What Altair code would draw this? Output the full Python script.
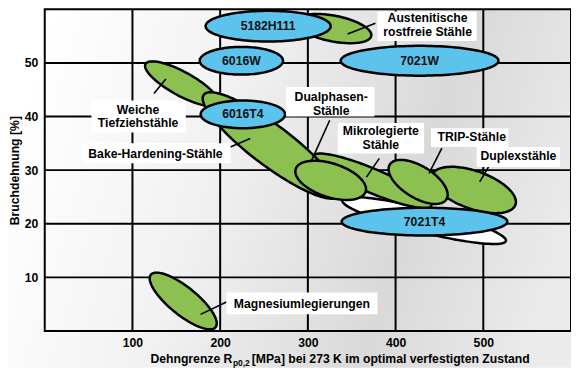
import numpy as np
import pandas as pd
import altair as alt

# ---------------- data ----------------
x_ticks = [100, 200, 300, 400, 500]          # Dehngrenze [MPa]
y_ticks = [10, 20, 30, 40, 50]               # Bruchdehnung [%]

# material regions (drawing order = list order)
names = ["weiss", "Mikrolegierte", "Duplex", "TRIP", "Magnesium", "Austenitisch",
         "Weiche", "BakeHardening", "Dualphasen",
         "5182H111", "6016W", "7021W", "6016T4", "7021T4"]
kinds = ["sonstige", "Stahl", "Stahl", "Stahl", "Magnesium", "Stahl",
         "Stahl", "Stahl", "Stahl",
         "Aluminium", "Aluminium", "Aluminium", "Aluminium", "Aluminium"]
centre_rp = [432.5, 373.6, 489.1, 425.7, 157.9, 329.3, 156.2, 258.0, 326.0,
             254.7, 224.2, 427.4, 225.9, 433.0]
centre_a = [20.6, 28.0, 26.3, 27.8, 5.6, 56.4, 46.1, 34.6, 28.1,
            56.85, 50.4, 50.4, 40.4, 20.4]
half_len = [96.2, 73.0, 50.5, 37.9, 47.5, 43.8, 47.1, 96.0, 41.9,
            71.3, 47.5, 90.0, 48.1, 94.5]
half_wid = [13.6, 13.6, 21.5, 18.1, 15.8, 14.7, 13.6, 23.0, 19.2,
            17.5, 15.8, 17.0, 15.8, 15.8]
tilt_deg = [-14, -23, -19.6, -31.5, -39, -11, -28.7, -37, -18,
            0, 0, 0, 0, 0]

# alloy names written inside the blue regions
alloy_text = ["5182H111", "6016W", "7021W", "6016T4", "7021T4"]

# boxed labels: one row per text line
label_lines = ["Austenitische", "rostfreie Stähle", "Weiche", "Tiefziehstähle",
               "Bake-Hardening-Stähle", "Dualphasen-", "Stähle",
               "Mikrolegierte", "Stähle", "TRIP-Stähle", "Duplexstähle",
               "Magnesiumlegierungen"]
label_x = [436.5, 436.5, 106.4, 106.4, 126.2, 326.6, 326.6, 383.2, 383.2, 486.8, 540.0, 293.2]
label_y = [58.3, 55.8, 41.3, 38.8, 33.0, 43.7, 41.1, 37.2, 34.7, 36.1, 32.6, 5.0]

# white label boxes
box_x1 = [379.3, 53.2, 43.0, 275.1, 334.0, 440.4, 492.5, 207.2]
box_x2 = [492.5, 160.8, 211.7, 375.9, 432.5, 528.6, 587.4, 379.3]
box_y1 = [54.1, 37.0, 31.3, 40.0, 33.1, 34.3, 30.6, 3.1]
box_y2 = [59.6, 43.0, 35.0, 45.5, 38.8, 37.8, 34.3, 7.2]

# leader lines
lead_x1 = [345.3, 124.5, 211.7, 324.9, 381.5, 452.8, 506.0, 207.2]
lead_y1 = [55.4, 44.3, 34.3, 39.3, 32.2, 34.1, 30.6, 5.4]
lead_x2 = [377.0, 138.1, 234.3, 303.4, 366.8, 438.1, 495.9, 177.7]
lead_y2 = [57.4, 47.0, 35.9, 31.5, 28.7, 29.4, 27.8, 3.1]

# ---------------- layout ----------------
W, H = 530, 324
X_DOM, Y_DOM = [0, 600], [0, 60]
ASPECT = (H / (Y_DOM[1] - Y_DOM[0])) / (W / (X_DOM[1] - X_DOM[0]))  # MPa per % visually
FONT = "Liberation Sans"
FS = 12.3

# ellipse outlines
t = np.linspace(0, 2 * np.pi, 121)
frames = []
for n, kd, x0, y0, L, Wd, a in zip(names, kinds, centre_rp, centre_a, half_len, half_wid, tilt_deg):
    th = np.radians(a)
    xs = x0 + L * np.cos(t) * np.cos(th) - Wd * np.sin(t) * np.sin(th)
    ys = y0 + (L * np.cos(t) * np.sin(th) + Wd * np.sin(t) * np.cos(th)) / ASPECT
    frames.append(pd.DataFrame({"shape": n, "kind": kd, "x": xs, "y": ys, "i": np.arange(len(t))}))
ell_df = pd.concat(frames, ignore_index=True)

xscale = alt.Scale(domain=X_DOM, nice=False, zero=False)
yscale = alt.Scale(domain=Y_DOM, nice=False, zero=False)
xaxis = alt.Axis(values=x_ticks, grid=False, ticks=False, tickSize=0, domain=False, title=None,
                 labelFont=FONT, labelFontSize=FS, labelFontWeight="bold", labelColor="black",
                 labelPadding=6, zindex=1)
yaxis = alt.Axis(values=y_ticks, grid=False, ticks=False, tickSize=0, domain=False,
                 title="Bruchdehnung [%]", titleFont=FONT, titleFontSize=FS, titleFontWeight="bold",
                 titleColor="black", titlePadding=3,
                 labelFont=FONT, labelFontSize=FS, labelFontWeight="bold", labelColor="black",
                 labelPadding=7, zindex=1)


def X(f):
    return alt.X(f, type="quantitative", scale=xscale, axis=xaxis)


def Y(f):
    return alt.Y(f, type="quantitative", scale=yscale, axis=yaxis)


dummy = pd.DataFrame({"a": [0]})

# background gradient
bg = alt.Chart(dummy).mark_rect(
    color=alt.Gradient(gradient="linear", x1=0, y1=0.4, x2=1, y2=0.6,
                       stops=[alt.GradientStop(offset=0, color="#ffffff"),
                              alt.GradientStop(offset=0.35, color="#f1f1f1"),
                              alt.GradientStop(offset=0.72, color="#d9d9d9"),
                              alt.GradientStop(offset=1, color="#ebebeb")])
).encode(x=alt.value(-37), x2=alt.value(W), y=alt.value(0), y2=alt.value(H + 37))

gx = alt.Chart(pd.DataFrame({"v": x_ticks})).mark_rule(color="black", strokeWidth=2).encode(x=X("v"))
gy = alt.Chart(pd.DataFrame({"v": y_ticks})).mark_rule(color="black", strokeWidth=2).encode(y=Y("v"))

ell_base = alt.Chart(ell_df).mark_line(stroke="black", strokeWidth=2.5, strokeJoin="round").encode(
    x=X("x"), y=Y("y"), order=alt.Order("i:Q"),
    fill=alt.Fill("kind:N", scale=alt.Scale(domain=["sonstige", "Stahl", "Magnesium", "Aluminium"],
                                            range=["#ffffff", "#8cc151", "#8cc151", "#5bc3ec"]),
                  legend=None))
ell_layers = [ell_base.transform_filter(alt.datum.shape == n) for n in names]

alloy_df = pd.DataFrame({"t": alloy_text,
                         "x": [centre_rp[names.index(s)] for s in alloy_text],
                         "y": [centre_a[names.index(s)] for s in alloy_text]})
alloy = alt.Chart(alloy_df).mark_text(font=FONT, fontSize=FS, fontWeight="bold", color="#111111",
                                      baseline="middle").encode(x=X("x"), y=Y("y"), text="t:N")

lead_df = pd.DataFrame({"x": lead_x1, "y": lead_y1, "x2": lead_x2, "y2": lead_y2})
leads = alt.Chart(lead_df).mark_rule(color="black", strokeWidth=1.6).encode(
    x=X("x"), y=Y("y"), x2="x2", y2="y2")

box_df = pd.DataFrame({"x": box_x1, "x2": box_x2, "y": box_y1, "y2": box_y2})
boxes = alt.Chart(box_df).mark_rect(color="white").encode(x=X("x"), x2="x2", y=Y("y"), y2="y2")

lab_df = pd.DataFrame({"t": label_lines, "x": label_x, "y": label_y})
labels = alt.Chart(lab_df).mark_text(font=FONT, fontSize=FS, fontWeight="bold", color="black",
                                     baseline="middle").encode(x=X("x"), y=Y("y"), text="t:N")

border = alt.Chart(dummy).mark_rect(fillOpacity=0, stroke="black", strokeWidth=2).encode(
    x=alt.value(0), x2=alt.value(W), y=alt.value(0), y2=alt.value(H))

# x-axis title with subscript
t1 = alt.Chart(pd.DataFrame({"t": ["Dehngrenze R"], "x": [214.0], "y": [-5.3]})).mark_text(
    font=FONT, fontSize=FS, fontWeight="bold", color="black", align="right", baseline="middle"
).encode(x=X("x"), y=Y("y"), text="t:N")
t2 = alt.Chart(pd.DataFrame({"t": ["p0,2"], "x": [214.5], "y": [-5.3]})).mark_text(
    font=FONT, fontSize=8.5, fontWeight="bold", color="black", align="left", baseline="middle", dy=3.5
).encode(x=X("x"), y=Y("y"), text="t:N")
t3 = alt.Chart(pd.DataFrame({"t": ["[MPa] bei 273 K im optimal verfestigten Zustand"],
                             "x": [236.0], "y": [-5.3]})).mark_text(
    font=FONT, fontSize=FS, fontWeight="bold", color="black", align="left", baseline="middle"
).encode(x=X("x"), y=Y("y"), text="t:N")

chart = alt.layer(bg, gx, gy, *ell_layers, leads, boxes, labels, alloy, border, t1, t2, t3).properties(
    width=W, height=H,
    padding={"left": 37, "top": 0, "right": 0, "bottom": 37},
    autosize=alt.AutoSizeParams(type="none"),
    background="white",
).configure_view(stroke=None)

chart.save("out.html", embed_options={"renderer": "svg", "actions": False})
